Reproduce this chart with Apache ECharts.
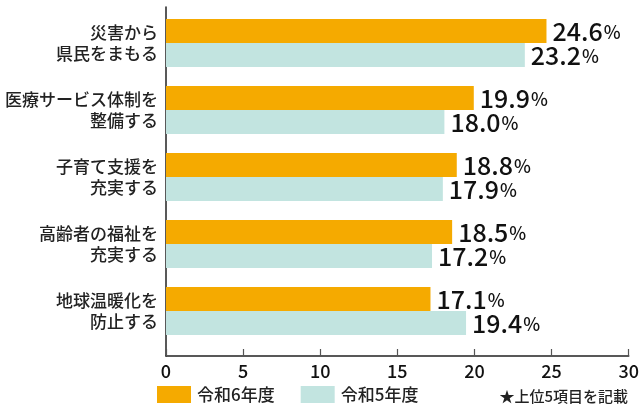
<!DOCTYPE html>
<html><head><meta charset="utf-8">
<script src="https://cdn.jsdelivr.net/npm/echarts@6/dist/echarts.min.js"></script>
<style>html,body{margin:0;padding:0;background:#fff}#c{width:642px;height:404px}</style>
</head><body><div id="c"></div>
<script>
const categories = ['災害から\n県民をまもる','医療サービス体制を\n整備する','子育て支援を\n充実する','高齢者の福祉を\n充実する','地球温暖化を\n防止する'];
const seriesNames = ['令和6年度','令和5年度'];
const r6 = [24.6, 19.9, 18.8, 18.5, 17.1];
const r5 = [23.2, 18.0, 17.9, 17.2, 19.4];
const xTicks = [0, 5, 10, 15, 20, 25, 30];
const note = '★上位5項目を記載';

const FONT = '"Noto Sans CJK JP", sans-serif';
const chart = echarts.init(document.getElementById('c'), null, {renderer:'canvas'});
const labelCfg = {
  show: true, position: 'right', distance: 6,
  formatter: p => '{n|' + p.value.toFixed(1) + '}{p|%}',
  rich: {
    n: {fontSize: 25, color: '#111', fontFamily: FONT, fontWeight: 500},
    p: {fontSize: 18, color: '#111', fontFamily: FONT, fontWeight: 500, padding: [3,0,0,1]}
  }
};
chart.setOption({
  animation: false,
  textStyle: {fontFamily: FONT},
  grid: [
    {left: 166, right: 12, top: 9.5, height: 335, containLabel: false},
    {left: 166, right: 12, top: 7, bottom: 48, containLabel: false}
  ],
  xAxis: [
    {type: 'value', gridIndex: 0, min: 0, max: 30, interval: 5, show: false},
    {type: 'value', gridIndex: 1, min: xTicks[0], max: xTicks[xTicks.length-1], interval: 5,
     axisLine: {show: true, lineStyle: {color: '#222', width: 1.5}},
     axisTick: {show: true, inside: true, length: 7, lineStyle: {color: '#555', width: 1.2}},
     axisLabel: {fontSize: 18, color: '#111', margin: 6, fontFamily: FONT, fontWeight: 500},
     splitLine: {show: false}}
  ],
  yAxis: [
    {type: 'category', gridIndex: 0, data: categories, inverse: true,
     axisLine: {show: false}, axisTick: {show: false},
     axisLabel: {fontSize: 17, lineHeight: 21, color: '#222', margin: 8, align: 'right', fontFamily: FONT, fontWeight: 500}},
    {type: 'value', gridIndex: 1, min: 0, max: 1,
     axisLine: {show: true, lineStyle: {color: '#222', width: 1.5}},
     axisTick: {show: false}, axisLabel: {show: false}, splitLine: {show: false}}
  ],
  legend: {
    left: 157, top: 386, padding: 0, itemWidth: 34, itemHeight: 17, itemGap: 26, icon: 'rect',
    textStyle: {fontSize: 17, color: '#222', fontFamily: FONT, fontWeight: 500, padding: [0,0,0,1]},
    data: seriesNames
  },
  title: {
    text: note, right: 14, top: 389, padding: 0,
    textStyle: {fontSize: 15, fontWeight: 500, color: '#222', fontFamily: FONT}
  },
  series: [
    {name: seriesNames[0], type: 'bar', xAxisIndex: 0, yAxisIndex: 0, data: r6,
     barWidth: 24, barGap: '0%', itemStyle: {color: '#F5AA00'}, label: labelCfg},
    {name: seriesNames[1], type: 'bar', xAxisIndex: 0, yAxisIndex: 0, data: r5,
     barWidth: 24, barGap: '0%', itemStyle: {color: '#C2E4E0'}, label: labelCfg}
  ]
});
</script></body></html>
